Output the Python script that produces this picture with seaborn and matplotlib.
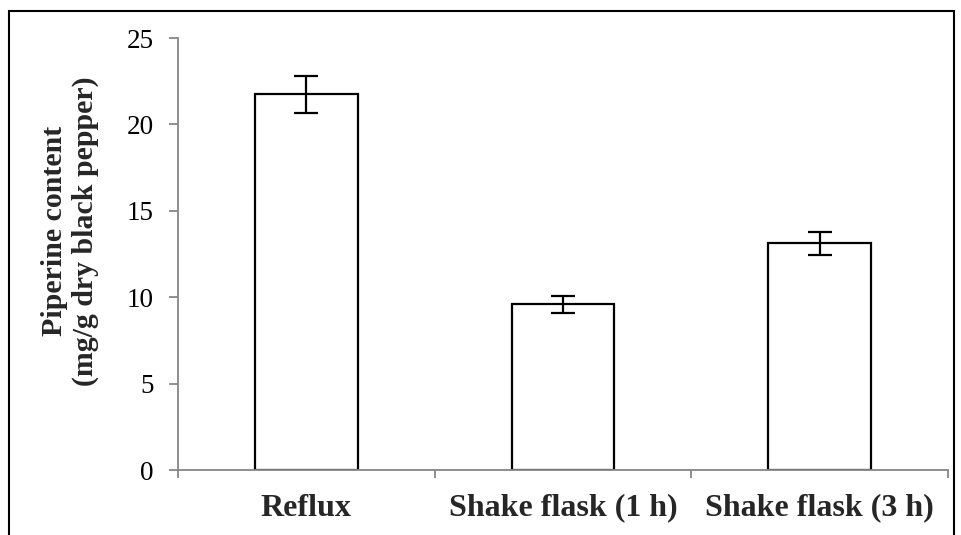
import matplotlib
matplotlib.use("Agg")
import matplotlib.pyplot as plt
from matplotlib.patches import Rectangle
import seaborn as sns
import pandas as pd

# Piperine content by extraction method
methods = ["Reflux", "Shake flask (1 h)", "Shake flask (3 h)"]
content = [21.75, 9.6, 13.12]
errors = [1.07, 0.49, 0.65]
yticks = [0, 5, 10, 15, 20, 25]

df = pd.DataFrame({"method": methods, "content": content})

sns.set_theme(style="white")
plt.rcParams["font.family"] = ["Liberation Serif", "DejaVu Serif"]

W, H = 961, 535
fig = plt.figure(figsize=(W / 100, H / 100), dpi=100)
ax = fig.add_axes([178 / W, 1 - 470 / H, (948 - 178) / W, (470 - 38) / H])

sns.barplot(data=df, x="method", y="content", ax=ax, color="white",
            edgecolor="black", linewidth=1.6, width=0.4, errorbar=None,
            saturation=1)
ax.errorbar(x=range(len(methods)), y=content, yerr=errors, fmt="none",
            ecolor="black", elinewidth=1.6, capsize=8.5, capthick=1.6)

ax.set_ylim(yticks[0], yticks[-1])
ax.set_xlim(-0.5, len(methods) - 0.5)
ax.set_yticks(yticks)

grey = "#868686"
for side in ("top", "right"):
    ax.spines[side].set_visible(False)
for side in ("left", "bottom"):
    ax.spines[side].set_color(grey)
    ax.spines[side].set_linewidth(1.3)

ax.tick_params(axis="y", which="major", left=True, length=6.5, width=1.3,
               color=grey, labelsize=19.5, pad=11, labelcolor="black")
ax.set_xticks([i - 0.5 for i in range(len(methods) + 1)], minor=True)
ax.tick_params(axis="x", which="minor", bottom=True, length=6, width=1.3,
               color=grey)
ax.tick_params(axis="x", which="major", bottom=False, length=0, pad=17,
               labelsize=23)
for lbl in ax.get_xticklabels():
    lbl.set_fontweight("bold")

ax.set_xlabel("")
ax.set_ylabel("")
fig.text(70 / W, 1 - 231 / H, "Piperine content\n(mg/g dry black pepper)",
         rotation=90, ha="center", va="center", fontsize=21.5,
         fontweight="bold", linespacing=1.15, multialignment="center")

# Outer frame around the figure, open at the bottom edge
fig.patches.append(Rectangle((9 / W, -0.05), (954 - 9) / W, 1.05 - 11 / H,
                             transform=fig.transFigure, fill=False,
                             edgecolor="black", linewidth=1.5))

fig.savefig("out.png", dpi=100)
